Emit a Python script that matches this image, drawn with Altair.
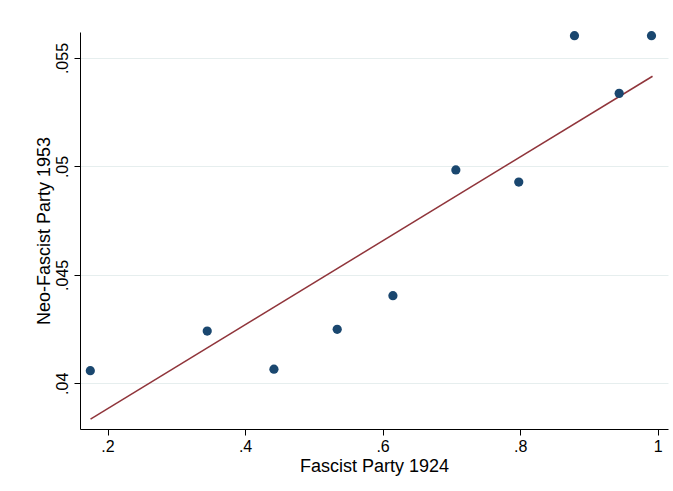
import altair as alt
import pandas as pd

fascist_1924 = [0.175, 0.345, 0.442, 0.534, 0.615, 0.7065, 0.798, 0.879, 0.944, 0.991]
neofascist_1953 = [0.04058, 0.04241, 0.04065, 0.04249, 0.04404, 0.04984, 0.04928, 0.05603, 0.05337, 0.05603]
fit_x = [0.1753, 0.9925]
fit_y = [0.03835, 0.05416]
x_ticks = [0.2, 0.4, 0.6, 0.8, 1.0]
y_ticks = [0.04, 0.045, 0.05, 0.055]

df = pd.DataFrame({"x": fascist_1924, "y": neofascist_1953})
fit_df = pd.DataFrame({"x": fit_x, "y": fit_y})

FONT = "Liberation Sans"

xscale = alt.Scale(domain=[0.16, 1.015], nice=False, zero=False)
yscale = alt.Scale(domain=[0.037893, 0.0562], nice=False, zero=False)

xaxis = alt.Axis(
    title="Fascist Party 1924",
    values=x_ticks,
    labelExpr="datum.value >= 1 ? '1' : replace(format(datum.value, '.1f'), '0.', '.')",
    grid=False,
    domainColor="#000000",
    tickColor="#000000",
    tickSize=6,
    labelFontSize=16,
    labelPadding=3,
    titleFontSize=18,
    titlePadding=3,
    titleFontWeight="normal",
    labelFont=FONT,
    titleFont=FONT,
    labelColor="#000000",
    titleColor="#000000",
)

yaxis = alt.Axis(
    title="Neo-Fascist Party 1953",
    values=y_ticks,
    labelExpr="replace(format(datum.value, '.3~f'), '0.', '.')",
    grid=True,
    gridColor="#e6eeee",
    gridWidth=1,
    domainColor="#000000",
    tickColor="#000000",
    tickSize=6,
    labelAngle=270,
    labelAlign="center",
    labelBaseline="bottom",
    labelFontSize=16,
    labelPadding=4,
    titleFontSize=18,
    titlePadding=1,
    titleFontWeight="normal",
    labelFont=FONT,
    titleFont=FONT,
    labelColor="#000000",
    titleColor="#000000",
)

points = alt.Chart(df).mark_circle(size=85, color="#1a476f", opacity=1).encode(
    x=alt.X("x:Q", scale=xscale, axis=xaxis),
    y=alt.Y("y:Q", scale=yscale, axis=yaxis),
)

fit = alt.Chart(fit_df).mark_line(color="#90353b", strokeWidth=1.5).encode(
    x=alt.X("x:Q", scale=xscale),
    y=alt.Y("y:Q", scale=yscale),
)

chart = (
    alt.layer(fit, points)
    .properties(
        width=588,
        height=397,
        autosize=alt.AutoSizeParams(type="none"),
        padding={"left": 80, "top": 32, "right": 5, "bottom": 62},
        background="white",
    )
    .configure_view(stroke=None)
)

chart.save("out.html", embed_options={"renderer": "svg", "actions": False})
